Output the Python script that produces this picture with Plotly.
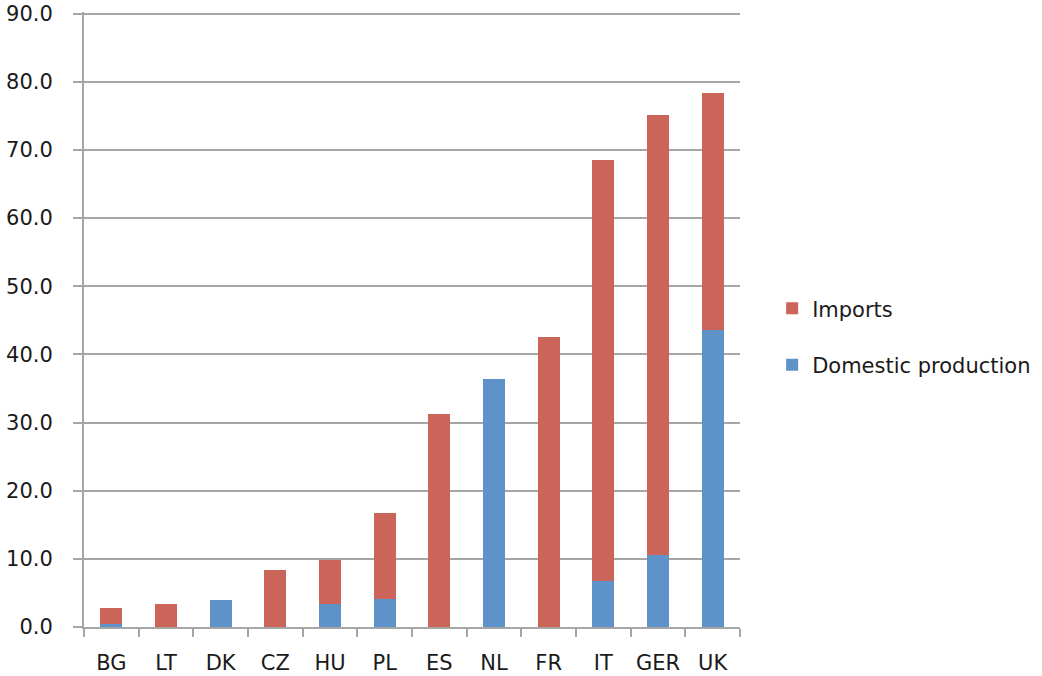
import plotly.graph_objects as go

countries = ["BG", "LT", "DK", "CZ", "HU", "PL", "ES", "NL", "FR", "IT", "GER", "UK"]
domestic = [0.4, 0.0, 4.0, 0.0, 3.4, 4.1, 0.0, 36.4, 0.0, 6.7, 10.5, 43.6]
totals = [2.8, 3.4, 4.0, 8.3, 9.8, 16.7, 31.3, 36.4, 42.6, 68.6, 75.2, 78.4]
imports = [round(t - d, 1) for t, d in zip(totals, domestic)]
y_ticks = [0, 10, 20, 30, 40, 50, 60, 70, 80, 90]

RED = "#CB6459"
BLUE = "#5E93C9"
GRID = "#A6A6A6"
FONT = "DejaVu Sans"

fig = go.Figure()
fig.add_trace(go.Bar(x=countries, y=domestic, name="Domestic production",
                     marker=dict(color=BLUE, line=dict(width=0)),
                     legendgroup="d", legendrank=2))
fig.add_trace(go.Bar(x=countries, y=imports, name="Imports",
                     marker=dict(color=RED, line=dict(width=0)),
                     legendgroup="i", legendrank=1))

fig.update_layout(
    width=1042, height=676,
    barmode="stack", bargap=0.6,
    plot_bgcolor="white", paper_bgcolor="white",
    margin=dict(l=84, r=302, t=12, b=49, autoexpand=False),
    font=dict(family=FONT, size=21, color="#1a1a1a"),
    legend=dict(x=1.049, y=0.472, xanchor="left", yanchor="middle",
                traceorder="grouped", tracegroupgap=26,
                font=dict(family=FONT, size=21, color="#1a1a1a"),
                bgcolor="rgba(0,0,0,0)"),
    xaxis=dict(showline=True, linecolor=GRID, linewidth=2,
               ticks="outside", tickson="boundaries", ticklen=8, tickcolor=GRID, tickwidth=2,
               showgrid=False, ticklabelstandoff=16),
    yaxis=dict(range=[0, 90.25], tickvals=y_ticks,
               tickformat=".1f",
               showline=True, linecolor=GRID, linewidth=2,
               ticks="outside", ticklen=9, tickcolor=GRID, tickwidth=2,
               showgrid=True, gridcolor=GRID, gridwidth=2,
               zeroline=False, ticklabelstandoff=16),
)

fig.write_html("out.html")
